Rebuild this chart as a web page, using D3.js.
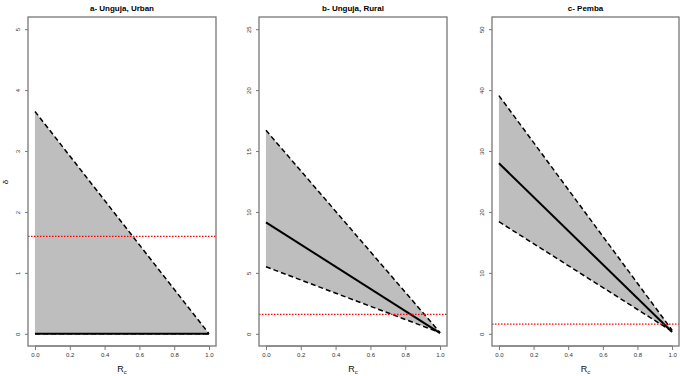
<!DOCTYPE html>
<html>
<head>
<meta charset="utf-8">
<script src="https://cdn.jsdelivr.net/npm/d3@7"></script>
<style>
  body { margin: 0; background: #fff; }
  text { font-family: "Liberation Sans", Arial, sans-serif; }
</style>
</head>
<body>
<svg width="680" height="376"></svg>
<script>
// data
const titles = ["a- Unguja, Urban", "b- Unguja, Rural", "c- Pemba"];
const rc = [0, 1];
const upper = [[3.65, 0], [16.7, 0.1], [39.1, 0.6]];
const central = [[0, 0], [9.15, 0.05], [28.0, 0.3]];
const lower = [[0, 0], [5.5, 0.1], [18.4, 0.4]];
const yMax = [5, 25, 50];
const yTicks = [[0, 1, 2, 3, 4, 5], [0, 5, 10, 15, 20, 25], [0, 10, 20, 30, 40, 50]];
const xTicks = [0, 0.2, 0.4, 0.6, 0.8, 1.0];
const threshold = 1.6;

// frame positions of each panel
const frames = [
  { left: 28, right: 216 },
  { left: 259, right: 447 },
  { left: 492, right: 679 }
];
const plotTop = 17, plotBottom = 346;

const svg = d3.select("svg");

frames.forEach((f, k) => {
  // R style 4% padding on both scales
  const xPad = (f.right - f.left) / 1.08 * 0.04;
  const x = d3.scaleLinear().domain([0, 1]).range([f.left + xPad, f.right - xPad]);
  const yPad = (plotBottom - plotTop) / 1.08 * 0.04;
  const y = d3.scaleLinear().domain([0, yMax[k]]).range([plotBottom - yPad, plotTop + yPad]);

  const g = svg.append("g");
  const pts = rc.map((r, i) => ({ r, up: upper[k][i], mid: central[k][i], lo: lower[k][i] }));

  // shaded band
  g.append("path")
    .datum(pts)
    .attr("fill", "#bebebe")
    .attr("d", d3.area().x(d => x(d.r)).y0(d => y(d.lo)).y1(d => y(d.up)));

  const line = key => d3.line().x(d => x(d.r)).y(d => y(d[key]));
  g.append("path").datum(pts).attr("fill", "none").attr("stroke", "#000")
    .attr("stroke-width", 1.5).attr("stroke-dasharray", "5,3").attr("d", line("up"));
  g.append("path").datum(pts).attr("fill", "none").attr("stroke", "#000")
    .attr("stroke-width", 1.5).attr("stroke-dasharray", "5,3").attr("d", line("lo"));
  g.append("path").datum(pts).attr("fill", "none").attr("stroke", "#000")
    .attr("stroke-width", 2).attr("d", line("mid"));

  // threshold
  g.append("line")
    .attr("x1", f.left).attr("x2", f.right)
    .attr("y1", y(threshold)).attr("y2", y(threshold))
    .attr("stroke", "#ff0000").attr("stroke-width", 1.2)
    .attr("stroke-dasharray", "1.5,1.5");

  // box
  g.append("rect")
    .attr("x", f.left).attr("y", plotTop)
    .attr("width", f.right - f.left).attr("height", plotBottom - plotTop)
    .attr("fill", "none").attr("stroke", "#777").attr("stroke-width", 1.3);

  // axes
  const xa = g.append("g").attr("transform", `translate(0,${plotBottom})`)
    .call(d3.axisBottom(x).tickValues(xTicks).tickFormat(d3.format(".1f")).tickSize(4).tickPadding(3));
  xa.select(".domain").attr("stroke", "#777").attr("d", `M${x(0)},0H${x(1)}`);
  xa.selectAll(".tick line").attr("stroke", "#777");
  xa.selectAll("text").attr("font-size", 6).attr("fill", "#333");

  const ya = g.append("g").attr("transform", `translate(${f.left},0)`)
    .call(d3.axisLeft(y).tickValues(yTicks[k]).tickFormat(d3.format("d")).tickSize(3).tickPadding(0));
  ya.select(".domain").remove();
  ya.selectAll(".tick line").attr("stroke", "#777");
  ya.selectAll("text")
    .attr("font-size", 6).attr("fill", "#333")
    .attr("text-anchor", "middle").attr("dy", 0).attr("x", 0)
    .attr("transform", "translate(-8,0) rotate(-90)");

  // title
  svg.append("text")
    .attr("x", (f.left + f.right) / 2).attr("y", 11)
    .attr("text-anchor", "middle").attr("font-size", 8).attr("font-weight", "bold")
    .attr("fill", "#000")
    .text(titles[k]);

  // x label R_c
  const xl = svg.append("text")
    .attr("x", (f.left + f.right) / 2).attr("y", 372)
    .attr("text-anchor", "middle").attr("font-size", 9).attr("fill", "#111");
  xl.append("tspan").text("R");
  xl.append("tspan").attr("font-size", 6).attr("dy", 2).text("c");
});

// y label only on first panel
svg.append("text")
  .attr("transform", "translate(8,182) rotate(-90)")
  .attr("text-anchor", "middle").attr("font-size", 8)
  .text("δ");
</script>
</body>
</html>
